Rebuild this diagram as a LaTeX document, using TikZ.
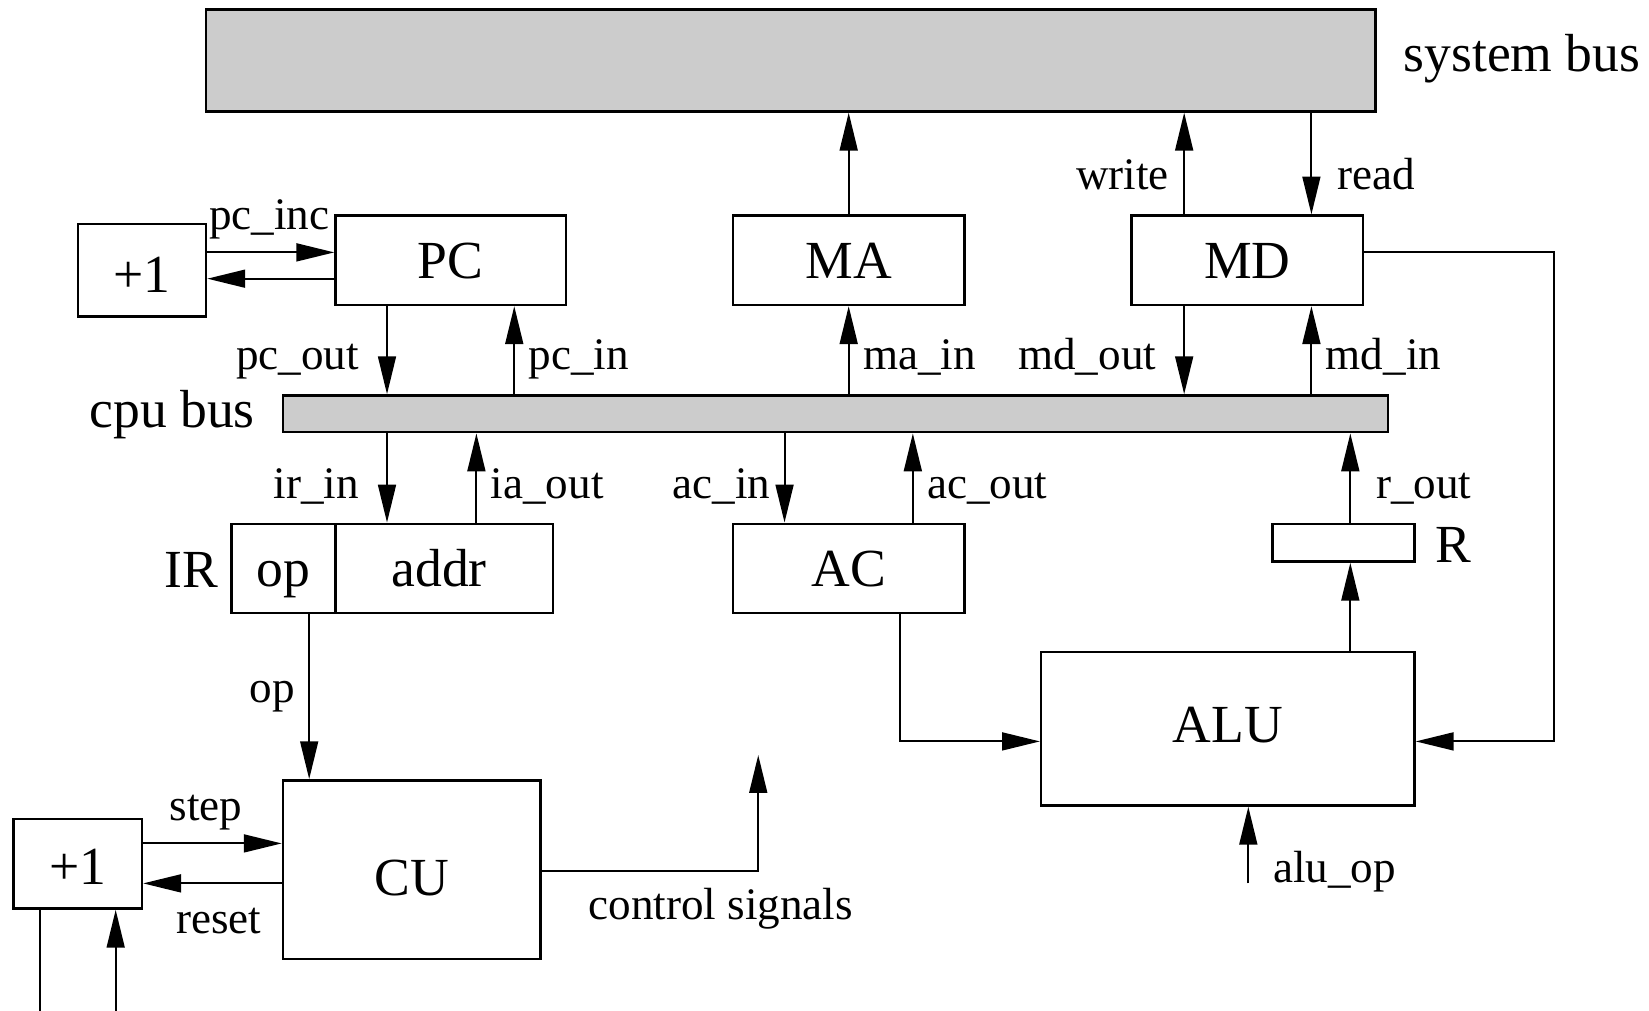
\documentclass[tikz,border=0pt]{standalone}
\usepackage{fontspec}
\setmainfont{Liberation Serif}
\usetikzlibrary{arrows.meta}
\definecolor{busgray}{RGB}{204,204,204}
\begin{document}
\begin{tikzpicture}[x=0.1mm,y=-0.1mm,
  big/.style={font=\fontsize{14.5pt}{17pt}\selectfont},
  small/.style={font=\fontsize{12.2pt}{14pt}\selectfont},
  box/.style={draw, line width=0.65pt, inner sep=0pt, big, text height=9.6pt, text depth=0pt},
  regbox/.style={draw, line width=0.65pt, inner sep=0pt},
  bus/.style={draw, line width=0.65pt, fill=busgray, inner sep=0pt},
  arr/.style={line width=0.55pt, -{Triangle[length=3.6mm,width=1.7mm]}},
  wire/.style={line width=0.55pt},
  lbl/.style={small, inner sep=0pt},
  biglbl/.style={big, inner sep=0pt},
]
\useasboundingbox (0,0) rectangle (1568,961);

% buses
\node[bus, minimum width=111.2mm, minimum height=9.7mm] (sysbus) at (752,57.5) {};
\node[biglbl, anchor=mid west] (sysbuslbl) at (1334,60) {system bus};
\node[bus, minimum width=105.1mm, minimum height=3.5mm] (cpubus) at (794.5,393.5) {};
\node[biglbl, anchor=mid east] (cpubuslbl) at (243,398) {cpu bus};

% boxes
\node[box, minimum width=12.2mm, minimum height=8.8mm, text height=11.9pt] (inc1) at (135,257) {+1};
\node[box, minimum width=21.9mm, minimum height=8.5mm] (pc) at (428.5,247.5) {PC};
\node[box, minimum width=22mm, minimum height=8.5mm] (ma) at (807,247.5) {MA};
\node[box, minimum width=22mm, minimum height=8.5mm] (md) at (1186,247.5) {MD};
\node[box, minimum width=9.9mm, minimum height=8.5mm] (irop) at (269.5,540.5) {op};
\node[box, minimum width=20.7mm, minimum height=8.5mm] (iraddr) at (422.5,540.5) {addr\rule{1mm}{0pt}};
\node[biglbl, anchor=east] (irlbl) at (208,542) {IR};
\node[box, minimum width=22mm, minimum height=8.5mm] (ac) at (807,540.5) {AC};
\node[regbox, minimum width=13.5mm, minimum height=3.6mm] (r) at (1277.5,516) {};
\node[biglbl, anchor=west] (rlbl) at (1364,518) {R};
\node[box, minimum width=35.5mm, minimum height=14.6mm, text height=7.3pt] (alu) at (1167.5,693) {ALU};
\node[box, minimum width=24.5mm, minimum height=17mm, text height=14.2pt] (cu) at (391.5,827) {CU};
\node[box, minimum width=12.2mm, minimum height=8.5mm, text height=11.3pt] (inc2) at (74,821.5) {+1};

% helper coordinates
\coordinate (xa) at (368,0);
\coordinate (xb) at (489,0);
\coordinate (xd) at (1126,0);
\coordinate (xe) at (1247,0);
\coordinate (xf) at (453,0);
\coordinate (xg) at (746,0);
\coordinate (xh) at (868,0);
\coordinate (xi) at (1284,0);
\coordinate (xj) at (856,0);
\coordinate (xl) at (294,0);
\coordinate (xm) at (721,0);
\coordinate (xn) at (38,0);
\coordinate (xo) at (110,0);
\coordinate (xq) at (1478,0);
\coordinate (ya) at (0,240);
\coordinate (yb) at (0,265);
\coordinate (yc) at (0,705);
\coordinate (yd) at (0,802);
\coordinate (ye) at (0,840);
\coordinate (yf) at (0,828);
\coordinate (ybot) at (0,964);
\coordinate (aluop) at (1187,840);
\coordinate (ctl) at (721,718);

% PC incrementer
\draw[arr] (inc1.east |- ya) -- (pc.west |- ya);
\draw[arr] (pc.west |- yb) -- (inc1.east |- yb);
\node[lbl, anchor=mid] at (256,210) {pc\_inc};

% system bus connections
\draw[arr] (ma.north) -- (ma.north |- sysbus.south);
\draw[arr] (md.north -| xd) -- (sysbus.south -| xd);
\draw[arr] (sysbus.south -| xe) -- (md.north -| xe);
\node[lbl, anchor=mid east] at (1112,172) {write};
\node[lbl, anchor=mid west] at (1271,172) {read};

% MD to ALU
\draw[arr] (md.east |- ya) -- (ya -| xq) -- (xq |- yc) -- (alu.east |- yc);

% upper cpu bus connections
\draw[arr] (pc.south -| xa) -- (cpubus.north -| xa);
\draw[arr] (cpubus.north -| xb) -- (pc.south -| xb);
\draw[arr] (cpubus.north -| ma.south) -- (ma.south);
\draw[arr] (md.south -| xd) -- (cpubus.north -| xd);
\draw[arr] (cpubus.north -| xe) -- (md.south -| xe);
\node[lbl, anchor=mid east] at (342,343) {pc\_out};
\node[lbl, anchor=mid west] at (502,343) {pc\_in};
\node[lbl, anchor=mid west] at (820,343) {ma\_in};
\node[lbl, anchor=mid east] at (1100,343) {md\_out};
\node[lbl, anchor=mid west] at (1260,343) {md\_in};

% lower cpu bus connections
\draw[arr] (cpubus.south -| xa) -- (iraddr.north -| xa);
\draw[arr] (iraddr.north -| xf) -- (cpubus.south -| xf);
\draw[arr] (cpubus.south -| xg) -- (ac.north -| xg);
\draw[arr] (ac.north -| xh) -- (cpubus.south -| xh);
\draw[arr] (r.north -| xi) -- (cpubus.south -| xi);
\node[lbl, anchor=mid east] at (342,466) {ir\_in};
\node[lbl, anchor=mid west] at (466,466) {ia\_out};
\node[lbl, anchor=mid east] at (733,466) {ac\_in};
\node[lbl, anchor=mid west] at (881,466) {ac\_out};
\node[lbl, anchor=mid west] at (1308,466) {r\_out};

% ALU
\draw[arr] (alu.north -| xi) -- (r.south -| xi);
\draw[arr] (ac.south -| xj) -- (xj |- yc) -- (alu.west |- yc);
\draw[arr] (aluop) -- (alu.south -| aluop);
\node[lbl, anchor=mid west] at (1210,831) {alu\_op};

% control unit
\draw[arr] (irop.south -| xl) -- (cu.north -| xl);
\node[lbl, anchor=mid east] at (281,660) {op};
\draw[arr] (cu.east |- yf) -- (yf -| xm) -- (ctl);
\node[lbl, anchor=mid west] at (559,866) {control signals};
\draw[arr] (inc2.east |- yd) -- (cu.west |- yd);
\draw[arr] (cu.west |- ye) -- (inc2.east |- ye);
\node[lbl, anchor=mid] at (196,772) {step};
\node[lbl, anchor=mid] at (208,880) {reset};
\draw[wire] (inc2.south -| xn) -- (xn |- ybot);
\draw[arr] (xo |- ybot) -- (inc2.south -| xo);
\end{tikzpicture}
\end{document}
